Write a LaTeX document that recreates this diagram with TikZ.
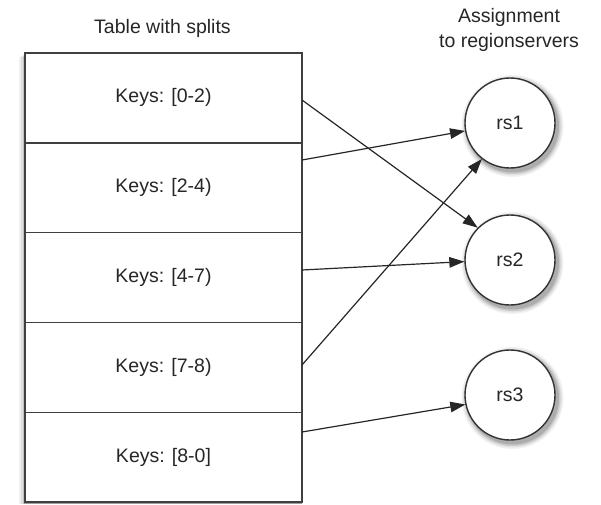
\documentclass[tikz,border=0pt]{standalone}
\usepackage{fontspec}
\setmainfont{Liberation Sans}
\usetikzlibrary{arrows.meta}
\begin{document}
\begin{tikzpicture}[x=1pt,y=-1pt,
  txt/.style={font=\fontsize{19.5}{24}\selectfont,text=black!85},
  cell/.style={txt,draw=black!75,line width=1.4pt,fill=white,minimum width=277pt,minimum height=89.8pt,inner sep=0pt},
  rs/.style={txt,circle,draw=black!80,line width=1.4pt,fill=white,minimum size=90pt,inner sep=0pt},
  lbl/.style={txt,align=center},
  link/.style={line width=1.2pt,draw=black!85,-{Triangle[length=15pt,width=10.5pt]}}]
\useasboundingbox (0,0) rectangle (601,504);
% table shadow
\foreach \d/\o in {7/0.06,5/0.08,3/0.12,1.5/0.18}
  \fill[black,opacity=\o] (25.5-\d,53+\d*0.6) rectangle (302,504);
\node[cell] (k1) at (163.5,97.9) {Keys: [0-2)};
\node[cell] (k2) at (163.5,187.7) {Keys: [2-4)};
\node[cell] (k3) at (163.5,277.5) {Keys: [4-7)};
\node[cell] (k4) at (163.5,367.3) {Keys: [7-8)};
\node[cell] (k5) at (163.5,457.1) {Keys: [8-0]};
\node[lbl] (t1) at (162.5,28) {Table with splits};
\node[lbl] (t2a) at (509,17) {Assignment};
\node[lbl] (t2b) at (509,42) {to regionservers};
% circle shadows
\foreach \c in {(510,123),(510,260),(510,395)}{
  \foreach \r/\o in {51/0.05,49.5/0.07,48/0.1,46.5/0.14}
    \fill[black,opacity=\o] \c ++(2.5,3) circle (\r);
}
\node[rs] (rs1) at (510,123) {rs1};
\node[rs] (rs2) at (510,260) {rs2};
\node[rs] (rs3) at (510,395) {rs3};
\coordinate (a1) at (302,100);
\coordinate (a2) at (302,160);
\coordinate (a3) at (302,270);
\coordinate (a4) at (302,365);
\coordinate (a5) at (302,432);
\draw[link] (a1) -- (rs2.135);
\draw[link] (a2) -- (rs1.190);
\draw[link] (a3) -- (rs2.182);
\draw[link] (a4) -- (rs1.232);
\draw[link] (a5) -- (rs3.192);
\end{tikzpicture}
\end{document}
